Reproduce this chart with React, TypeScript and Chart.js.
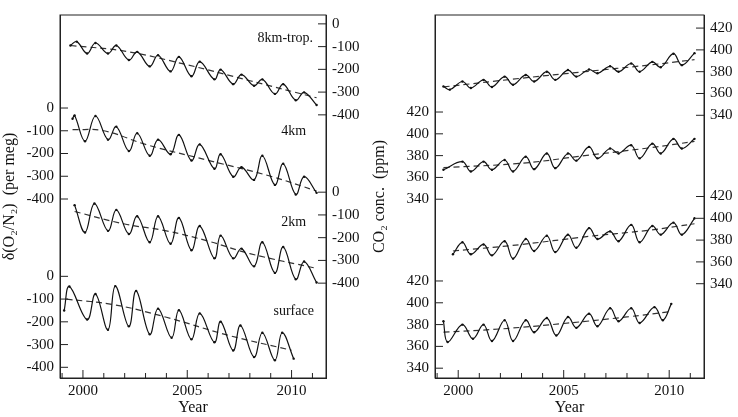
import React, { useEffect, useRef } from "react";
import { Chart, registerables } from "chart.js";
Chart.register(...registerables);

// ---------- O2/N2 (per meg) : [year, value] ----------
const o2Trop: [number, number][] = [[1999.4,-95],[1999.7,-78],[2000.2,-130],[2000.6,-84],[2001.2,-130],[2001.6,-95],[2002.2,-159],[2002.6,-123],[2003.2,-187],[2003.6,-138],[2004.2,-209],[2004.6,-145],[2005.2,-230],[2005.6,-166],[2006.3,-244],[2006.6,-201],[2007.2,-265],[2007.6,-223],[2008.2,-272],[2008.6,-244],[2009.2,-308],[2009.6,-265],[2010.2,-336],[2010.6,-301],[2011.2,-357]];
const o2TropTrend: [number, number][] = [[1999.4,-95],[2002,-120],[2005,-180],[2008,-250],[2011.2,-325]];
const o2Km4: [number, number][] = [[1999.5,-47],[1999.6,-33],[2000.1,-146],[2000.6,-35],[2001.2,-139],[2001.6,-82],[2002.2,-189],[2002.6,-111],[2003.2,-210],[2003.6,-139],[2004.2,-203],[2004.6,-118],[2005.2,-231],[2005.6,-160],[2006.3,-267],[2006.6,-203],[2007.2,-302],[2007.6,-260],[2008.2,-316],[2008.6,-210],[2009.2,-338],[2009.6,-245],[2010.2,-380],[2010.6,-302],[2011.2,-373]];
const o2Km4Trend: [number, number][] = [[1999.5,-95],[2001,-100],[2003,-160],[2006,-230],[2009,-300],[2011.2,-365]];
const o2Km2: [number, number][] = [[1999.6,-57],[2000.1,-177],[2000.55,-50],[2001.2,-170],[2001.6,-78],[2002.2,-184],[2002.6,-106],[2003.2,-220],[2003.6,-106],[2004.2,-227],[2004.6,-113],[2005.2,-255],[2005.6,-149],[2006.3,-291],[2006.6,-191],[2007.2,-291],[2007.6,-248],[2008.2,-326],[2008.6,-220],[2009.2,-355],[2009.6,-241],[2010.2,-383],[2010.6,-305],[2011.2,-397]];
const o2Km2Trend: [number, number][] = [[1999.6,-85],[2002,-140],[2004,-170],[2006,-215],[2008,-270],[2011.2,-335]];
const o2Surf: [number, number][] = [[1999.1,-150],[1999.35,-45],[2000.2,-190],[2000.6,-78],[2001.2,-235],[2001.55,-43],[2002.2,-220],[2002.55,-64],[2003.2,-255],[2003.6,-142],[2004.25,-270],[2004.6,-149],[2005.2,-277],[2005.6,-163],[2006.3,-290],[2006.6,-199],[2007.2,-326],[2007.55,-216],[2008.2,-355],[2008.6,-248],[2009.2,-369],[2009.55,-248],[2010.1,-362]];
const o2SurfTrend: [number, number][] = [[1999.2,-100],[2001.5,-125],[2004,-180],[2007,-260],[2010,-325]];

// ---------- CO2 (ppm) ----------
const co2Trop: [number, number][] = [[1999.3,366.5],[1999.6,363.5],[2000.2,371],[2000.6,365],[2001.2,372.5],[2001.6,366],[2002.2,375.5],[2002.6,368],[2003.2,377],[2003.6,371],[2004.2,380],[2004.6,372.5],[2005.2,381.5],[2005.6,375.5],[2006.2,382],[2006.6,378.5],[2007.2,385],[2007.6,380],[2008.2,387.5],[2008.6,380],[2009.2,389],[2009.6,384],[2010.2,396.5],[2010.6,386],[2011.2,397]];
const co2TropTrend: [number, number][] = [[1999.3,366],[2003,374],[2006,380],[2009,386],[2011.2,391]];
const co2Km4: [number, number][] = [[1999.3,367],[2000.2,374.5],[2000.6,365.5],[2001.2,374.5],[2001.6,367],[2002.2,376],[2002.6,365.5],[2003.2,379],[2003.6,367.6],[2004.2,382],[2004.6,368.5],[2005.2,382],[2005.6,375.4],[2006.2,388],[2006.6,377.5],[2007.2,386.5],[2007.6,382],[2008.2,389.5],[2008.6,377.5],[2009.2,391],[2009.6,382],[2010.2,395.4],[2010.6,386.5],[2011.2,395.4]];
const co2Km4Trend: [number, number][] = [[1999.3,369],[2003,373],[2006,380],[2009,387],[2011.2,393]];
const co2Km2: [number, number][] = [[1999.75,367],[2000.2,378],[2000.6,367],[2001.2,376],[2001.6,366],[2002.2,379],[2002.6,363],[2003.2,381],[2003.6,370],[2004.2,384],[2004.6,369],[2005.2,385],[2005.6,373],[2006.2,391],[2006.6,381],[2007.2,388],[2007.6,379],[2008.2,394],[2008.6,378],[2009.2,393],[2009.6,385],[2010.2,396],[2010.6,385],[2011.2,400]];
const co2Km2Trend: [number, number][] = [[1999.75,370],[2003,376],[2006,383],[2009,389],[2011.2,395]];
const co2Surf: [number, number][] = [[1999.3,383],[1999.5,364],[2000.2,380],[2000.7,367],[2001.2,380],[2001.6,365],[2002.2,384],[2002.6,365],[2003.2,384],[2003.6,373],[2004.2,386],[2004.65,370],[2005.2,387],[2005.6,377],[2006.2,390],[2006.6,378.5],[2007.2,395],[2007.6,383],[2008.2,395],[2008.6,381.5],[2009.3,396],[2009.7,384],[2010.1,399]];
const co2SurfTrend: [number, number][] = [[1999.3,373],[2002,376],[2005,381],[2008,387],[2010.1,392]];

const o2Ticks = [-400, -300, -200, -100, 0];
const co2Ticks = [340, 360, 380, 400, 420];
const yearTicks = [1999, 2000, 2001, 2002, 2003, 2004, 2005, 2006, 2007, 2008, 2009, 2010, 2011];
const yearLabels = [2000, 2005, 2010];

const FONT = "'Liberation Serif', 'DejaVu Serif', serif";

type Series = { line: [number, number][]; trend: [number, number][]; offset: number; label: string; lx: number; ly: number };
type PanelCfg = {
  series: Series[];
  leftOffsets: number[];
  rightOffsets: number[];
  ticks: number[];
  ymin: number;
  ymax: number;
  leftW: number;
  rightW: number;
  title: string;
  width: number;
};

function Panel({ cfg }: { cfg: PanelCfg }) {
  const ref = useRef<HTMLCanvasElement>(null);
  useEffect(() => {
    const mk = (offs: number[]) => {
      const m = new Map<number, string>();
      offs.forEach((o) => cfg.ticks.forEach((t) => m.set(Math.round((t + o) * 100) / 100, String(t))));
      return m;
    };
    const lmap = mk(cfg.leftOffsets);
    const rmap = mk(cfg.rightOffsets);
    const datasets: any[] = [];
    cfg.series.forEach((s) => {
      datasets.push({
        yAxisID: "yl",
        data: s.line.map(([x, y]) => ({ x, y: y + s.offset })),
        borderColor: "#111", borderWidth: 1.2, tension: 0.4, pointRadius: 1.2,
        pointBackgroundColor: "#111", pointBorderWidth: 0,
      });
      datasets.push({
        yAxisID: "yl",
        data: s.trend.map(([x, y]) => ({ x, y: y + s.offset })),
        borderColor: "#333", borderWidth: 1.2, borderDash: [6, 4], tension: 0.4, pointRadius: 0,
      });
    });
    const yScale = (pos: string, map: Map<number, string>, w: number, withTitle: boolean) => ({
      type: "linear", position: pos, min: cfg.ymin, max: cfg.ymax,
      grid: { display: false, drawTicks: false },
      border: { display: true, color: "#222", width: 1 },
      title: withTitle ? { display: true, text: cfg.title, color: "#111", font: { family: FONT, size: 16 }, padding: 0 } : { display: false },
      afterBuildTicks: (sc: any) => { sc.ticks = Array.from(map.keys()).map((v) => ({ value: v })); },
      afterFit: (sc: any) => { sc.width = w; },
      ticks: { autoSkip: false, padding: 6, color: "#111", font: { family: FONT, size: 15 },
        callback: (v: any) => map.get(Math.round(v * 100) / 100) ?? "" },
    });
    const inner = {
      id: "inner",
      afterDraw(chart: any) {
        const c = chart.ctx; const a = chart.chartArea;
        c.save(); c.strokeStyle = "#222"; c.lineWidth = 1;
        c.strokeRect(a.left, a.top, a.right - a.left, a.bottom - a.top);
        const xs = chart.scales.x;
        yearTicks.forEach((yr) => {
          const px = xs.getPixelForValue(yr); const L = yr % 5 === 0 ? 8 : 5;
          c.beginPath(); c.moveTo(px, a.bottom); c.lineTo(px, a.bottom - L); c.stroke();
        });
        const ly = chart.scales.yl, ry = chart.scales.yr;
        Array.from(lmap.keys()).forEach((v) => { const p = ly.getPixelForValue(v); c.beginPath(); c.moveTo(a.left, p); c.lineTo(a.left + 8, p); c.stroke(); });
        Array.from(rmap.keys()).forEach((v) => { const p = ry.getPixelForValue(v); c.beginPath(); c.moveTo(a.right, p); c.lineTo(a.right - 8, p); c.stroke(); });
        c.fillStyle = "#111"; c.font = `14px ${FONT}`; c.textAlign = "center"; c.textBaseline = "middle";
        cfg.series.forEach((s) => { if (s.label) c.fillText(s.label, xs.getPixelForValue(s.lx), ly.getPixelForValue(s.ly)); });
        c.restore();
      },
    };
    const chart = new Chart(ref.current!, {
      type: "line",
      data: { datasets },
      plugins: [inner],
      options: {
        animation: false, responsive: true, maintainAspectRatio: false,
        layout: { padding: { top: 3, left: 0, right: 0, bottom: 0 } },
        plugins: { legend: { display: false }, tooltip: { enabled: false } },
        scales: {
          x: {
            type: "linear", min: 1998.9, max: 2011.65,
            grid: { display: false, drawTicks: false }, border: { display: true, color: "#222" },
            afterBuildTicks: (sc: any) => { sc.ticks = yearTicks.map((v) => ({ value: v })); },
            afterFit: (sc: any) => { sc.height = 39; },
            ticks: { autoSkip: false, maxRotation: 0, padding: 4, color: "#111", font: { family: FONT, size: 15 },
              callback: (v: any) => (yearLabels.includes(v) ? String(v) : "") },
            title: { display: true, text: "Year", color: "#111", font: { family: FONT, size: 16 }, padding: 0 },
          },
          yl: yScale("left", lmap, cfg.leftW, true),
          yr: yScale("right", rmap, cfg.rightW, false),
        } as any,
      },
    });
    return () => chart.destroy();
  }, []);
  return (
    <div style={{ width: cfg.width, height: 417, position: "relative" }}>
      <canvas ref={ref} />
    </div>
  );
}

const leftCfg: PanelCfg = {
  series: [
    { line: o2Trop, trend: o2TropTrend, offset: 1110, label: "8km-trop.", lx: 2009.7, ly: 1047 },
    { line: o2Km4, trend: o2Km4Trend, offset: 740, label: "4km", lx: 2010.1, ly: 638 },
    { line: o2Km2, trend: o2Km2Trend, offset: 370, label: "2km", lx: 2010.1, ly: 238 },
    { line: o2Surf, trend: o2SurfTrend, offset: 0, label: "surface", lx: 2010.1, ly: -153 },
  ],
  leftOffsets: [0, 740], rightOffsets: [370, 1110], ticks: o2Ticks,
  ymin: -447, ymax: 1149, leftW: 60, rightW: 44, title: "δ(O₂/N₂)  (per meg)", width: 370,
};
const rightCfg: PanelCfg = {
  series: [
    { line: co2Trop, trend: co2TropTrend, offset: 232, label: "", lx: 0, ly: 0 },
    { line: co2Km4, trend: co2Km4Trend, offset: 155, label: "", lx: 0, ly: 0 },
    { line: co2Km2, trend: co2Km2Trend, offset: 77.5, label: "", lx: 0, ly: 0 },
    { line: co2Surf, trend: co2SurfTrend, offset: 0, label: "", lx: 0, ly: 0 },
  ],
  leftOffsets: [0, 155], rightOffsets: [77.5, 232], ticks: co2Ticks,
  ymin: 331, ymax: 664, leftW: 65, rightW: 34, title: "CO₂ conc.  (ppm)", width: 368,
};

export default function App() {
  useEffect(() => { document.body.style.margin = "0"; document.body.style.background = "#fff"; }, []);
  return (
    <div style={{ display: "flex", width: 738, height: 417, background: "#fff" }}>
      <Panel cfg={leftCfg} />
      <Panel cfg={rightCfg} />
    </div>
  );
}
